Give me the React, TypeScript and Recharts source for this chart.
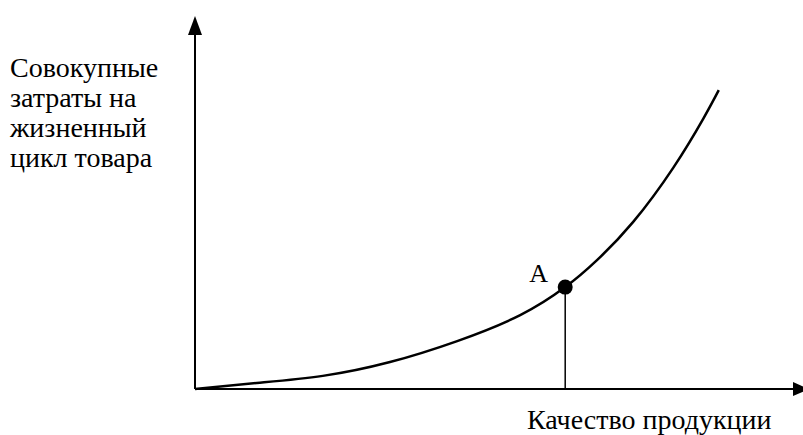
import React from 'react'
import { ComposedChart, Line, XAxis, YAxis, ReferenceDot, ReferenceLine } from 'recharts'

// quality (x) vs total life-cycle cost (y), arbitrary units 0..100
const quality = [0, 10.3, 21.3, 32.5, 43.7, 54.2, 61.7, 67, 73, 79.7, 84.7, 87.3]
const cost = [0, 1.7, 3.7, 7.6, 13.5, 20.8, 28.7, 36.3, 47.0, 62.3, 76.1, 84.2]
const pointA = { x: 61.7, y: 28.7, label: 'A' }
const yLabelLines = ['Совокупные', 'затраты на', 'жизненный', 'цикл товара']
const xLabel = 'Качество продукции'

const data = quality.map((q, i) => ({ q, c: cost[i] }))

const font = '"Liberation Serif", serif'

const App = () => {
  return (
    <div style={{ position: 'absolute', left: 0, top: 0, width: 803, height: 435, background: '#fff' }}>
      <ComposedChart width={803} height={435} data={data} margin={{ top: 34, right: 8, bottom: 46, left: 195 }}>
        <XAxis dataKey="q" type="number" domain={[0, 100]} hide />
        <YAxis type="number" domain={[0, 100]} hide />
        <ReferenceLine segment={[{ x: 0, y: 0 }, { x: 100, y: 0 }]} stroke="#000" strokeWidth={2} />
        <ReferenceLine segment={[{ x: 0, y: 0 }, { x: 0, y: 100 }]} stroke="#000" strokeWidth={2} />
        <ReferenceLine segment={[{ x: pointA.x, y: 0 }, { x: pointA.x, y: pointA.y }]} stroke="#000" strokeWidth={1.5} />
        <Line dataKey="c" type="natural" stroke="#000" strokeWidth={2.5} dot={false} isAnimationActive={false} />
        <ReferenceDot x={pointA.x} y={pointA.y} shape={(p: any) => (
          <g>
            <circle cx={p.cx} cy={p.cy} r={7.5} fill="#000" />
            <text x={p.cx - 36} y={p.cy - 5} fontFamily={font} fontSize={26} fill="#000">{pointA.label}</text>
          </g>
        )} />
        <ReferenceDot x={100} y={0} shape={(p: any) => (
          <polygon points={`${p.cx - 2},${p.cy - 7} ${p.cx + 14},${p.cy} ${p.cx - 2},${p.cy + 7}`} fill="#000" />
        )} />
        <ReferenceDot x={0} y={100} shape={(p: any) => (
          <polygon points={`${p.cx - 7},${p.cy + 1} ${p.cx},${p.cy - 18} ${p.cx + 7},${p.cy + 1}`} fill="#000" />
        )} />
      </ComposedChart>
      <div style={{ position: 'absolute', left: 10, top: 52.6, fontFamily: font, fontSize: 28, lineHeight: '30px', color: '#000', whiteSpace: 'nowrap' }}>
        {yLabelLines.map((l) => <div key={l}>{l}</div>)}
      </div>
      <div style={{ position: 'absolute', left: 527, top: 404.6, fontFamily: font, fontSize: 28, lineHeight: '30px', color: '#000', whiteSpace: 'nowrap' }}>
        {xLabel}
      </div>
    </div>
  )
}

export default App
